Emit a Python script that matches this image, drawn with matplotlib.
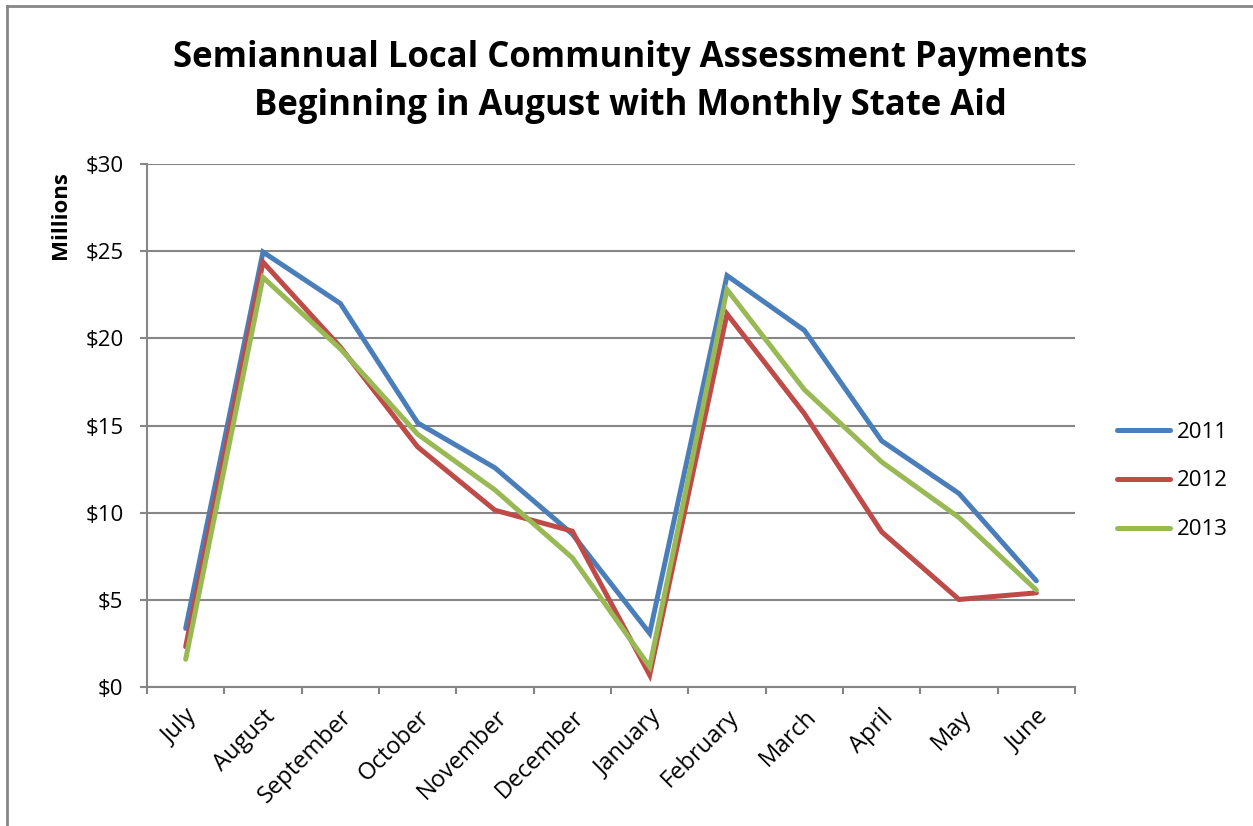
import matplotlib
matplotlib.use('Agg')
import matplotlib.pyplot as plt
from matplotlib.lines import Line2D
from matplotlib.ticker import FixedLocator

months = ['July', 'August', 'September', 'October', 'November', 'December',
          'January', 'February', 'March', 'April', 'May', 'June']
y2011 = [3.36, 24.95, 22.0, 15.15, 12.57, 8.77, 3.08, 23.6, 20.46, 14.12, 11.1, 6.09]
y2012 = [2.31, 24.37, 19.5, 13.77, 10.14, 8.94, 0.69, 21.4, 15.68, 8.9, 5.02, 5.4]
y2013 = [1.59, 23.5, 19.4, 14.5, 11.3, 7.41, 1.16, 22.8, 17.06, 12.91, 9.72, 5.56]
years = ['2011', '2012', '2013']
yticks = [0, 5, 10, 15, 20, 25, 30]

colors = ['#4A7EBB', '#BE4B48', '#98B954']
grey = '#868686'
plt.rcParams['font.family'] = ['Open Sans', 'DejaVu Sans']

W, H = 1253, 826
fig = plt.figure(figsize=(W / 100, H / 100), dpi=100)
ax = fig.add_axes([147 / W, 1 - 687 / H, (1075 - 147) / W, (687 - 164) / H])

x = range(len(months))
for ys, c, lab in zip([y2011, y2012, y2013], colors, years):
    ax.plot(x, ys, color=c, lw=3.6, solid_capstyle='round',
            solid_joinstyle='miter', label=lab, zorder=3)

ax.set_xlim(-0.5, len(months) - 0.5)
ax.set_ylim(0, 30)
ax.set_yticks(yticks)
ax.set_yticklabels(['$%d' % v for v in yticks], fontsize=16)
ax.yaxis.grid(True, color=grey, lw=1.5)
ax.set_axisbelow(True)

# category labels at centres, tick marks between categories
ax.set_xticks(list(x))
ax.set_xticklabels(months, rotation=45, ha='right', rotation_mode='anchor',
                   fontsize=17)
ax.tick_params(axis='x', which='major', length=0, pad=13)
ax.xaxis.set_minor_locator(FixedLocator([i - 0.5 for i in range(len(months) + 1)]))
ax.tick_params(axis='x', which='minor', length=5, width=1.5, color=grey,
               direction='out')
ax.tick_params(axis='y', length=5, width=1.5, color=grey, pad=12)
for s in ['top', 'right']:
    ax.spines[s].set_visible(False)
for s in ['left', 'bottom']:
    ax.spines[s].set_color(grey)
    ax.spines[s].set_linewidth(1.5)

fig.text(630 / W, 1 - 82 / H,
         'Semiannual Local Community Assessment Payments\n'
         'Beginning in August with Monthly State Aid',
         ha='center', va='center', fontsize=25, fontweight='bold',
         linespacing=1.45)
fig.text(60 / W, 1 - 215 / H, 'Millions', rotation=90, ha='center',
         va='center', fontsize=16, fontweight='bold')

handles = [Line2D([0], [0], color=c, lw=3.6, solid_capstyle='round')
           for c in colors]
fig.legend(handles, years, loc='center left',
           bbox_to_anchor=(1097 / W, 1 - 481 / H), frameon=False,
           fontsize=16, handlelength=2.4, handletextpad=0.3,
           labelspacing=1.25)

# chart-area border (top and left visible)
fig.add_artist(Line2D([7 / W, 7 / W], [0, 1 - 6 / H], color=grey, lw=2,
                      transform=fig.transFigure))
fig.add_artist(Line2D([7 / W, 1], [1 - 6 / H, 1 - 6 / H], color=grey, lw=2,
                      transform=fig.transFigure))

fig.savefig('out.png', dpi=100)
